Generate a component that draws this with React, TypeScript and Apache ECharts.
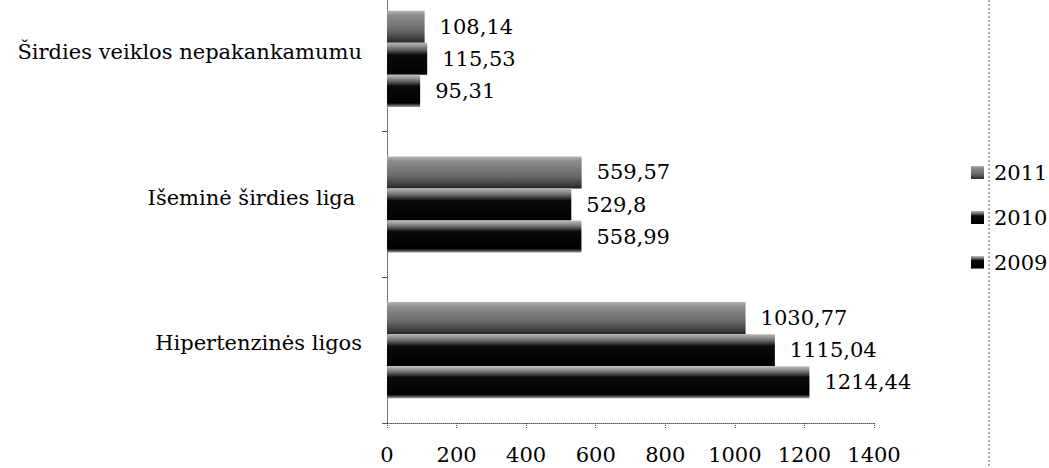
import React, { useEffect, useRef } from "react";
import * as echarts from "echarts";

const categories = ["Hipertenzinės ligos", "Išeminė širdies liga ", "Širdies veiklos nepakankamumu"];
const values2009 = [1214.44, 558.99, 95.31];
const values2010 = [1115.04, 529.8, 115.53];
const values2011 = [1030.77, 559.57, 108.14];
const legendNames = ["2011", "2010", "2009"];

const FONT = "DejaVu Serif";
const FS = 21;
const OFF = 40; // chart div is shifted up so the plot can start above the page

const grad = (stops: [number, string][]) =>
  new echarts.graphic.LinearGradient(0, 0, 0, 1, stops.map(([offset, color]) => ({ offset, color })));

export default function App() {
  const ref = useRef<HTMLDivElement>(null);
  useEffect(() => {
    if (!ref.current) return;
    const chart = echarts.init(ref.current, undefined, { renderer: "svg" });
    const fmt = (p: any) => String(p.value).replace(".", ",");
    const label = {
      show: true,
      position: "right" as const,
      distance: 15,
      formatter: fmt,
      fontFamily: FONT,
      fontSize: FS,
      color: "#000",
    };
    const mk = (name: string, data: number[], color: any) => ({
      name,
      type: "bar" as const,
      data,
      barGap: "0%",
      barCategoryGap: "34%",
      itemStyle: { color },
      label,
    });
    chart.setOption({
      animation: false,
      backgroundColor: "#fff",
      grid: { left: 387, right: 175, top: OFF - 14, height: 437, containLabel: false },
      legend: {
        data: legendNames,
        orient: "vertical",
        left: 966,
        top: OFF + 157,
        itemWidth: 13,
        itemHeight: 13,
        itemGap: 24,
        icon: "rect",
        textStyle: { fontFamily: FONT, fontSize: FS, color: "#000", padding: [0, 0, 0, 5] },
      },
      xAxis: {
        type: "value",
        min: 0,
        max: 1400,
        interval: 200,
        axisLine: { show: true, lineStyle: { color: "#555", type: "dotted", width: 1 } },
        axisTick: { show: true, length: 5, lineStyle: { color: "#555", type: "dotted" } },
        splitLine: { show: false },
        axisLabel: {
          fontFamily: FONT,
          fontSize: FS,
          color: "#000",
          margin: 21,
          formatter: (v: number) => String(v),
        },
      },
      yAxis: {
        type: "category",
        data: categories,
        axisLine: { show: true, lineStyle: { color: "#555", type: "dotted", width: 1 } },
        axisTick: { show: true, length: 5, lineStyle: { color: "#555" } },
        axisLabel: {
          fontFamily: FONT,
          fontSize: FS,
          color: "#000",
          margin: 25,
          verticalAlign: "bottom",
          lineHeight: 14,
        },
      },
      series: [
        mk("2011", values2011, grad([[0, "#b4b4b4"], [0.15, "#8c8c8c"], [0.6, "#6a6a6a"], [0.9, "#3a3a3a"], [1, "#222"]])),
        mk("2010", values2010, grad([[0, "#b8b8b8"], [0.2, "#6a6a6a"], [0.38, "#0a0a0a"], [1, "#000"]])),
        mk("2009", values2009, grad([[0, "#c0c0c0"], [0.18, "#707070"], [0.35, "#0a0a0a"], [0.88, "#000"], [1, "#9a9a9a"]])),
      ],
      graphic: [
        {
          type: "line",
          shape: { x1: 989, y1: OFF, x2: 989, y2: OFF + 468 },
          style: { stroke: "#555", lineWidth: 1, lineDash: [2, 2] },
        },
      ],
    });
    return () => chart.dispose();
  }, []);
  return <div ref={ref} style={{ position: "fixed", left: 0, top: -OFF, width: 1049, height: 468 + OFF }} />;
}
